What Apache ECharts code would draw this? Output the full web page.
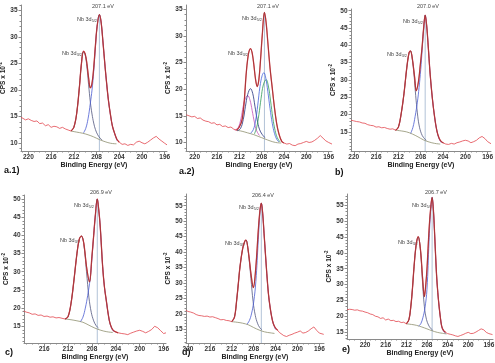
<!DOCTYPE html>
<html>
<head>
<meta charset="utf-8">
<script src="https://cdn.jsdelivr.net/npm/echarts@6/dist/echarts.min.js"></script>
<style>html,body{margin:0;padding:0;background:#fff}#main{width:495px;height:363px}</style>
</head>
<body>
<div id="main"></div>
<script>
// tick labels
var xTicks = [220, 216, 212, 208, 204, 200, 196];
var xTicksC = [216, 212, 208, 204, 200, 196];
var yTicks35 = [10, 15, 20, 25, 30, 35];
var yTicks50 = [15, 20, 25, 30, 35, 40, 45, 50];
var yTicks55 = [15, 20, 25, 30, 35, 40, 45, 50, 55];

var panelNames = ['a.1)', 'a.2)', 'b)', 'c)', 'd)', 'e)'];
var peakEv = ['207.1 eV', '207.1 eV', '207.0 eV', '206.9 eV', '206.4 eV', '206.7 eV'];

// ---- a.1 ----
var a1Left = [[221.3,14.9],[221,14.7],[220.5,14.4],[220,14.6],[219.5,14.3],[219,14.1],[218.5,14.2],[218,13.7],[217.5,13.8],[217,13.3],[216.5,13.5],[216,13.0],[215.5,13.2],[215,13.1],[214.5,12.8],[214,13.0],[213.5,12.7],[213,12.5],[212.5,12.3]];
var a1Fit = [[212.5,12.3],[212,13.0],[211.5,15.6],[211,20.8],[210.7,24.6],[210.3,27.3],[210,26.8],[209.7,25.0],[209.4,22.3],[209.1,20.4],[208.8,21.3],[208.5,24.2],[208.2,28.4],[207.9,32.0],[207.5,34.2],[207.2,32.8],[206.9,29.4],[206.5,24.4],[206.2,21.0],[205.9,18.0],[205.5,15.0],[205.2,13.2],[204.8,11.8],[204.4,10.7],[204,10.2]];
var a1Right = [[204,10.2],[203.5,9.8],[203,9.9],[202.5,9.6],[202,9.8],[201.5,9.7],[201,10.2],[200.5,10.4],[200,10.1],[199.5,9.9],[199,10.2],[198.5,10.6],[198,11.0],[197.5,11.3],[197,10.8],[196.5,10.4],[196,10.0],[195.6,9.7]];
var a1Bg = [[212.5,12.3],[211.5,12.1],[210.5,11.9],[209.5,11.6],[208.5,11.2],[207.5,10.7],[206.5,10.3],[205.5,10.0],[204.5,9.9]];
var a1D52 = [[210.3,11.95],[209.9,12.8],[209.5,14.6],[209.1,17.5],[208.8,20.0],[208.5,23.5],[208.2,28.0],[207.9,32.0],[207.5,34.2],[207.2,32.8],[206.9,29.4],[206.5,24.4],[206.2,21.0],[205.9,18.0],[205.5,15.0],[205.2,13.2],[204.8,11.8],[204.4,10.5]];
var a1D32 = [[212.5,12.3],[212,13.0],[211.5,15.6],[211,20.8],[210.7,24.5],[210.3,27.2],[210,26.6],[209.7,24.4],[209.4,21.0],[209.1,17.8],[208.8,15.5],[208.5,13.8],[208.2,12.6],[207.8,11.6],[207.4,11.0],[207,10.6]];
var a1V = [[207.5,8.55],[207.5,34.2]];

// ---- a.2 ----
var a2Left = [[221.5,15.2],[221,15.0],[220.5,14.8],[220,14.9],[219.5,14.5],[219,14.6],[218.5,14.2],[218,14.0],[217.5,13.9],[217,13.6],[216.5,13.7],[216,13.3],[215.5,13.4],[215,13.0],[214.5,13.1],[214,12.8],[213.5,12.9],[213,12.5],[212.5,12.3]];
var a2Fit = [[212.5,12.3],[212,12.9],[211.5,14.3],[211.1,18.0],[210.8,22.5],[210.4,26.4],[210.0,27.6],[209.7,26.8],[209.4,24.6],[209.1,21.9],[208.8,20.5],[208.5,21.8],[208.2,25.5],[207.9,30.0],[207.5,34.4],[207.2,32.5],[206.9,28.9],[206.5,24.0],[206.1,20.2],[205.7,16.5],[205.3,13.5],[204.9,11.6],[204.4,10.2],[204,9.9]];
var a2Right = [[204,9.9],[203.5,9.7],[203,9.8],[202.5,9.5],[202,9.4],[201.5,9.7],[201,9.8],[200.5,10.0],[200,10.2],[199.5,10.0],[199,10.1],[198.5,10.4],[198,10.8],[197.5,11.3],[197,10.8],[196.5,10.3],[196,10.0],[195.4,9.7]];
var a2Bg = [[212.5,12.3],[211.5,12.1],[210.5,11.8],[209.5,11.5],[208.5,11.1],[207.5,10.7],[206.5,10.3],[205.5,10.0],[204.5,9.9]];
var a2NavyD32 = [[212.4,12.2],[211.8,12.6],[211.3,14.3],[210.9,16.8],[210.5,19.0],[210.0,20.1],[209.6,19.2],[209.2,16.8],[208.8,14.3],[208.4,12.5],[207.9,11.5],[207.4,10.9]];
var a2PinkD32 = [[212.8,12.3],[212.2,12.8],[211.7,14.5],[211.3,16.8],[210.9,18.3],[210.5,18.8],[210.1,18.0],[209.7,16.0],[209.3,13.8],[208.9,12.2],[208.4,11.3]];
var a2BlueD52 = [[210.0,11.7],[209.5,12.4],[209.1,14.0],[208.7,17.0],[208.3,20.5],[207.9,22.6],[207.6,23.1],[207.3,22.3],[206.9,19.6],[206.5,16.4],[206.1,13.6],[205.7,11.7],[205.3,10.6],[204.9,10.1]];
var a2GreenD52 = [[209.3,11.6],[208.9,12.8],[208.5,15.2],[208.1,18.3],[207.7,20.8],[207.2,21.8],[206.8,20.6],[206.4,17.8],[206.0,14.6],[205.6,12.3],[205.2,10.9],[204.7,10.1]];
var a2V = [[207.5,8.4],[207.5,34.4]];

// ---- b ----
var bLeft = [[220.5,18.4],[220,18.2],[219.5,18.0],[219,17.9],[218.5,17.6],[218,17.5],[217.5,17.1],[217,16.9],[216.5,16.8],[216,16.4],[215.5,16.5],[215,16.2],[214.5,16.3],[214,16.0],[213.5,15.8],[213,15.9],[212.5,15.5]];
var bFit = [[212.5,15.5],[212,16.4],[211.5,20.3],[211,26.1],[210.5,33.5],[210.1,37.8],[209.85,38.4],[209.55,36.7],[209.1,30.9],[208.8,26.9],[208.4,29.6],[208.1,34.0],[207.75,39.6],[207.45,45.5],[207.2,48.7],[206.95,46.0],[206.7,40.8],[206.3,31.5],[205.9,24.5],[205.5,19.2],[205.1,15.3],[204.7,13.2],[204.3,12.2],[203.9,11.8]];
var bRight = [[203.9,11.8],[203.5,11.5],[203,11.4],[202.5,11.7],[202,11.5],[201.5,11.9],[201,12.1],[200.5,12.4],[200,12.6],[199.5,12.4],[199,11.9],[198.5,12.2],[198,12.6],[197.5,13.3],[197,13.7],[196.5,13.1],[196,12.2],[195.4,11.6]];
var bBg = [[212.5,15.5],[211.5,15.3],[210.5,15.0],[209.5,14.4],[208.5,13.6],[207.5,12.7],[206.5,12.1],[205.5,11.7],[204.5,11.5]];
var bD52 = [[209.8,14.6],[209.4,16.3],[209.0,19.5],[208.6,23.6],[208.3,27.8],[208.0,33.0],[207.75,38.5],[207.45,45.3],[207.2,48.7],[206.95,46.0],[206.7,40.8],[206.3,31.5],[205.9,24.5],[205.5,19.2],[205.1,15.3],[204.7,13.0],[204.3,11.9]];
var bD32 = [[212.5,15.5],[212,16.4],[211.5,20.3],[211,26.1],[210.5,33.5],[210.1,37.8],[209.85,38.4],[209.55,36.5],[209.2,31.5],[208.9,25.5],[208.6,20.5],[208.3,17.0],[207.9,14.6],[207.5,13.4],[207.0,12.6]];
var bV = [[207.2,9.5],[207.2,48.7]];

// ---- c ----
var cLeft = [[219.4,19.2],[219,18.9],[218.5,18.7],[218,18.3],[217.5,18.4],[217,18.0],[216.5,18.1],[216,17.7],[215.5,17.8],[215,17.5],[214.5,17.6],[214,17.3],[213.5,17.4],[213,17.2],[212.5,17.0]];
var cFit = [[212.5,17.0],[212,17.6],[211.5,21.2],[211,27.7],[210.5,35.0],[210.1,39.0],[209.75,39.8],[209.35,37.8],[208.9,31.4],[208.4,27.2],[208.0,34.1],[207.7,40.0],[207.45,45.0],[207.1,50.0],[206.85,47.0],[206.6,42.3],[206.2,31.4],[205.9,25.8],[205.6,22.2],[205.1,16.7],[204.7,14.6],[204.3,13.7],[203.6,13.2]];
var cRight = [[203.6,13.2],[203,13.0],[202.5,12.9],[202,12.7],[201.5,13.1],[201,13.4],[200.5,13.7],[200,13.9],[199.5,13.6],[199,13.2],[198.5,13.6],[198,14.1],[197.5,15.0],[197,14.6],[196.5,13.8],[196,13.0],[195.6,13.2]];
var cBg = [[212.5,17.0],[211.5,16.8],[210.5,16.5],[209.5,16.1],[208.5,15.3],[207.5,14.5],[206.5,13.9],[205.5,13.5],[204.5,13.3]];
var cD52 = [[209.9,16.3],[209.5,17.5],[209.1,20.0],[208.7,23.5],[208.3,28.0],[208.0,33.5],[207.7,40.0],[207.45,45.0],[207.1,50.0],[206.85,47.0],[206.6,42.3],[206.2,31.4],[205.9,25.8],[205.6,22.2],[205.1,16.7],[204.7,14.4],[204.3,13.5]];
var cD32 = [[212.5,17.0],[212,17.6],[211.5,21.2],[211,27.7],[210.5,35.0],[210.1,39.0],[209.75,39.8],[209.35,37.5],[208.9,30.0],[208.5,23.0],[208.1,18.8],[207.7,16.5],[207.3,15.2],[206.9,14.5]];
var cV = [[207.1,10.4],[207.1,50.0]];

// ---- d ----
var dLeft = [[220.4,21.2],[220,20.8],[219.5,20.6],[219,20.3],[218.5,19.8],[218,19.5],[217.5,19.4],[217,19.2],[216.5,19.3],[216,19.0],[215.5,19.1],[215,18.8],[214.5,18.5],[214,18.1],[213.5,18.2],[213,17.9],[212.5,17.8],[212,17.5]];
var dFit = [[212,17.5],[211.5,19.0],[211.1,24.5],[210.8,29.8],[210.5,35.2],[210.0,41.2],[209.6,43.6],[209.4,43.9],[209.0,40.6],[208.5,33.1],[208.06,28.5],[207.6,35.2],[207.15,47.1],[206.85,53.5],[206.6,55.8],[206.35,52.5],[206.1,46.0],[205.6,33.1],[205.3,26.5],[205.0,22.2],[204.7,19.0],[204.4,16.8],[204.0,15.4],[203.6,14.7]];
var dRight = [[203.6,14.7],[203.3,14.0],[203,13.4],[202.5,13.0],[202,12.7],[201.5,13.1],[201,13.4],[200.5,13.8],[200,14.1],[199.5,14.5],[199,13.8],[198.5,14.0],[198,14.5],[197.5,15.2],[197,15.8],[196.5,14.7],[196,13.8],[195.2,13.4]];
var dBg = [[212,17.5],[211,17.3],[210,17.0],[209,16.5],[208,15.6],[207,14.8],[206,14.2],[205,13.9],[204.2,13.7]];
var dD52 = [[209.2,16.7],[208.8,17.8],[208.4,20.0],[208.0,23.8],[207.6,30.5],[207.15,44.0],[206.85,53.0],[206.6,55.8],[206.35,52.5],[206.1,46.0],[205.6,33.1],[205.3,26.5],[205.0,22.2],[204.7,19.0],[204.4,16.8],[204.0,15.0]];
var dD32 = [[212,17.5],[211.5,19.0],[211.1,24.5],[210.8,29.8],[210.5,35.2],[210.0,41.2],[209.6,43.6],[209.4,43.9],[209.0,40.3],[208.5,31.5],[208.1,24.0],[207.7,19.5],[207.3,17.0],[206.9,15.6],[206.5,14.9]];
var dV = [[206.6,10.6],[206.6,55.8]];

// ---- e ----
var eLeft = [[223.5,22.0],[223,22.2],[222.5,22.1],[222,21.9],[221.5,22.0],[221,21.7],[220.5,21.6],[220,21.3],[219.5,21.1],[219,20.7],[218.5,20.5],[218,20.0],[217.5,19.8],[217,19.3],[216.5,19.5],[216,18.8],[215.5,19.1],[215,18.6],[214.5,18.7],[214,18.3],[213.5,18.4],[213,18.0],[212.5,18.1],[212,17.6]];
var eFit = [[212,17.6],[211.5,18.9],[211.1,23.5],[210.8,29.0],[210.5,35.7],[210.1,42.5],[209.7,45.1],[209.25,40.9],[208.87,32.5],[208.5,26.2],[208.2,30.5],[207.97,35.7],[207.6,47.2],[207.3,53.8],[207.0,57.5],[206.75,53.5],[206.55,47.2],[206.16,33.6],[205.9,27.5],[205.65,23.1],[205.4,19.6],[205.14,16.8],[204.8,15.5],[204.4,14.9]];
var eRight = [[204.4,14.9],[204,14.5],[203.5,14.3],[203,14.1],[202.5,13.8],[202,13.6],[201.5,13.9],[201,14.2],[200.5,14.6],[200,14.9],[199.5,14.5],[199,14.6],[198.5,15.0],[198,15.5],[197.5,16.0],[197,15.7],[196.5,14.9],[196,14.5],[195.3,14.2]];
var eBg = [[212,17.6],[211,17.4],[210,17.1],[209,16.6],[208,16.0],[207,15.4],[206,14.9],[205,14.6],[204.2,14.4]];
var eD52 = [[209.6,16.9],[209.2,17.6],[208.8,19.5],[208.4,22.5],[208.0,28.5],[207.6,43.5],[207.3,53.0],[207.0,57.5],[206.75,53.5],[206.55,47.2],[206.16,33.6],[205.9,27.5],[205.65,23.1],[205.4,19.6],[205.14,16.8],[204.8,15.3],[204.4,14.6]];
var eD32 = [[212,17.6],[211.5,18.9],[211.1,23.5],[210.8,29.0],[210.5,35.7],[210.1,42.5],[209.7,45.1],[209.25,40.6],[208.87,31.0],[208.5,23.0],[208.1,19.0],[207.7,17.2],[207.3,16.2],[206.9,15.6]];
var eV = [[207.0,12.8],[207.0,57.5]];

var C52 = '#4a5cd2', C32 = '#50557e';
var panels = [
  { g: [21, 5, 146, 146], x: [195.6, 221.3], y: [8.55, 36], xt: xTicks, yt: yTicks35, left: a1Left, fit: a1Fit, right: a1Right, bg: a1Bg, comps: [[a1D32, C32], [a1D52, C52]], v: a1V,
    lab: [92, 3.5], l52: [77, 15.5], l32: [62, 49.5], name: [4, 166] },
  { g: [186, 5, 146, 146], x: [195.4, 221.55], y: [8.4, 35.8], xt: xTicks, yt: yTicks35, left: a2Left, fit: a2Fit, right: a2Right, bg: a2Bg,
    comps: [[a2PinkD32, '#c24db6'], [a2NavyD32, '#22307c'], [a2GreenD52, '#2e9a55'], [a2BlueD52, '#4462da']], v: a2V,
    lab: [257, 3.5], l52: [242, 14.5], l32: [228, 49.5], name: [179, 167] },
  { g: [351, 9, 140, 142], x: [195.4, 220.5], y: [9.5, 50.5], xt: xTicks, yt: yTicks50, left: bLeft, fit: bFit, right: bRight, bg: bBg, comps: [[bD32, C32], [bD52, C52]], v: bV,
    lab: [417, 3.5], l52: [403, 17.5], l32: [387, 50.5], name: [335, 168] },
  { g: [24, 195, 142, 148], x: [195.6, 219.36], y: [10.4, 51.1], xt: xTicksC, yt: yTicks50, left: cLeft, fit: cFit, right: cRight, bg: cBg, comps: [[cD32, C32], [cD52, C52]], v: cV,
    lab: [90, 189.5], l52: [74, 201.5], l32: [60, 236.5], name: [5, 348] },
  { g: [186, 194, 138, 149], x: [195.15, 220.36], y: [10.6, 58.8], xt: xTicks, yt: yTicks55, left: dLeft, fit: dFit, right: dRight, bg: dBg, comps: [[dD32, C32], [dD52, C52]], v: dV,
    lab: [252, 192.5], l52: [239, 203.5], l32: [225, 239.5], name: [182, 348] },
  { g: [347, 194, 146, 145], x: [195.2, 223.5], y: [12.8, 58.6], xt: xTicks, yt: yTicks55, left: eLeft, fit: eFit, right: eRight, bg: eBg, comps: [[eD32, C32], [eD52, C52]], v: eV,
    lab: [425, 189.5], l52: [412, 201.5], l32: [398, 238.5], name: [342, 345] }
];

function range(a, b) { var r = []; for (var v = Math.ceil(a); v <= b; v++) r.push(v); return r; }

var axisCol = '#8a8a8a';
var grids = [], xAxes = [], yAxes = [], series = [], graphics = [];
panels.forEach(function (p, i) {
  grids.push({ left: p.g[0], top: p.g[1], width: p.g[2], height: p.g[3], containLabel: false, outerBoundsMode: 'none' });
  xAxes.push({
    type: 'value', gridIndex: i, min: p.x[0], max: p.x[1], inverse: true, position: 'bottom',
    axisLine: { show: true, onZero: false, lineStyle: { color: axisCol, width: 1 } },
    axisTick: { show: true, customValues: p.xt, length: 3, lineStyle: { color: axisCol } },
    axisLabel: { customValues: p.xt, margin: 3, fontSize: 6.5, fontWeight: 'bold', color: '#333', fontFamily: 'Liberation Sans, Arial' },
    splitLine: { show: false },
    name: 'Binding Energy (eV)', nameLocation: 'middle', nameGap: 9,
    nameTextStyle: { fontSize: 7, fontWeight: 'bold', color: '#222', fontFamily: 'Liberation Sans, Arial' }
  });
  xAxes.push({
    type: 'value', gridIndex: i, min: p.x[0], max: p.x[1], inverse: true, position: 'bottom',
    axisLine: { show: false }, axisLabel: { show: false }, splitLine: { show: false },
    axisTick: { show: true, customValues: range(p.x[0], p.x[1]), length: 1.5, lineStyle: { color: axisCol } }
  });
  yAxes.push({
    type: 'value', gridIndex: i, min: p.y[0], max: p.y[1], position: 'left',
    axisLine: { show: true, lineStyle: { color: axisCol, width: 1 } },
    axisTick: { show: true, customValues: p.yt, length: 2.5, lineStyle: { color: axisCol } },
    axisLabel: { customValues: p.yt, margin: 3.5, fontSize: 6.5, fontWeight: 'bold', color: '#333', fontFamily: 'Liberation Sans, Arial' },
    splitLine: { show: false },
    name: '{a|CPS x 10}{b|-2}', nameLocation: 'middle', nameGap: 12.5, nameRotate: 90,
    nameTextStyle: { fontFamily: 'Liberation Sans, Arial', rich: {
      a: { fontSize: 6.5, fontWeight: 'bold', color: '#222', lineHeight: 9 },
      b: { fontSize: 4.5, fontWeight: 'bold', color: '#222', lineHeight: 9, verticalAlign: 'top' } } }
  });
  yAxes.push({
    type: 'value', gridIndex: i, min: p.y[0], max: p.y[1], position: 'left',
    axisLine: { show: false }, axisLabel: { show: false }, splitLine: { show: false },
    axisTick: { show: true, customValues: range(p.y[0], p.y[1]), length: 1.5, lineStyle: { color: axisCol } }
  });
  function line(data, color, width, smooth) {
    series.push({ type: 'line', xAxisIndex: 2 * i, yAxisIndex: 2 * i, data: data, showSymbol: false, symbol: 'none',
      silent: true, smooth: smooth, lineStyle: { color: color, width: width } });
  }
  line(p.v, '#a9bbd2', 0.9, false);
  line(p.bg, '#8e8f6e', 0.8, 0.4);
  p.comps.forEach(function (c) { line(c[0], c[1], 0.8, 0.4); });
  line(p.left, '#e2464e', 0.8, false);
  line(p.right, '#e2464e', 0.8, false);
  line(p.fit, '#e2464e', 1.3, 0.35);
  line(p.fit, '#7e2b2b', 0.6, 0.35);

  var ann = { fontSize: 5.5, fill: '#444', fontFamily: 'Liberation Sans, Arial', lineHeight: 7 };
  var sub = { fontSize: 3.8, fill: '#444', fontFamily: 'Liberation Sans, Arial', lineHeight: 7, verticalAlign: 'bottom' };
  graphics.push({ type: 'text', x: p.lab[0], y: p.lab[1], silent: true,
    style: { text: peakEv[i], fontSize: 5.5, fill: '#444', fontFamily: 'Liberation Sans, Arial' } });
  graphics.push({ type: 'text', x: p.l52[0], y: p.l52[1], silent: true,
    style: { text: '{m|Nb 3d}{s|5/2}', rich: { m: ann, s: sub }, fill: '#444' } });
  graphics.push({ type: 'text', x: p.l32[0], y: p.l32[1], silent: true,
    style: { text: '{m|Nb 3d}{s|3/2}', rich: { m: ann, s: sub }, fill: '#444' } });
  graphics.push({ type: 'text', x: p.name[0], y: p.name[1], silent: true,
    style: { text: panelNames[i], fontSize: 9, fontWeight: 'bold', fill: '#111', fontFamily: 'Liberation Sans, Arial' } });
});

var chart = echarts.init(document.getElementById('main'), null, { renderer: 'canvas' });
chart.setOption({
  animation: false,
  backgroundColor: '#fff',
  grid: grids,
  xAxis: xAxes,
  yAxis: yAxes,
  series: series,
  graphic: graphics
});
</script>
</body>
</html>
